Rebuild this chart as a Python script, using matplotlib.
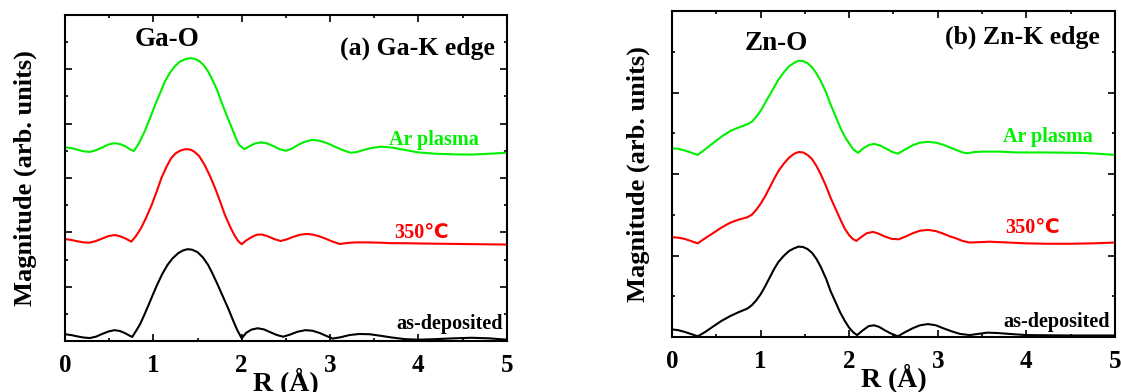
import numpy as np
from matplotlib import pyplot as plt
from matplotlib.ticker import MultipleLocator

# FT magnitude of EXAFS, Ga-K edge (a) and Zn-K edge (b)

# (a) Ga-K edge, curves already offset
ga_asdep_r = [0, 0.07, 0.14, 0.21, 0.28, 0.35, 0.42, 0.49, 0.56, 0.62, 0.68, 0.73, 0.76, 0.80, 0.85,
              0.90, 0.95, 1.00, 1.05, 1.10, 1.16, 1.22, 1.28, 1.34, 1.39, 1.44, 1.50, 1.56, 1.62,
              1.67, 1.73, 1.79, 1.85, 1.90, 1.95, 2.0, 2.05, 2.11, 2.18, 2.25, 2.32, 2.40, 2.47,
              2.55, 2.63, 2.72, 2.80, 2.88, 2.95, 3.03, 3.12, 3.22, 3.33, 3.45, 3.58, 3.7, 3.85,
              4.0, 4.2, 4.4, 4.6, 4.8, 5.0]
ga_asdep = [0.25, 0.22, 0.17, 0.13, 0.11, 0.16, 0.26, 0.35, 0.40, 0.37, 0.29, 0.20, 0.15, 0.35, 0.62,
            0.98, 1.36, 1.75, 2.12, 2.46, 2.80, 3.05, 3.23, 3.34, 3.38, 3.36, 3.27, 3.08, 2.80,
            2.48, 2.06, 1.62, 1.18, 0.78, 0.40, 0.10, 0.30, 0.42, 0.47, 0.43, 0.33, 0.22, 0.16,
            0.24, 0.34, 0.40, 0.38, 0.30, 0.20, 0.09, 0.14, 0.22, 0.26, 0.25, 0.19, 0.13, 0.07,
            0.05, 0.07, 0.10, 0.12, 0.10, 0.05]

ga_350_r = [0, 0.07, 0.14, 0.21, 0.28, 0.35, 0.42, 0.49, 0.56, 0.62, 0.68, 0.75, 0.80, 0.86, 0.92,
            0.98, 1.04, 1.09, 1.15, 1.20, 1.25, 1.30, 1.35, 1.39, 1.43, 1.47, 1.52, 1.58, 1.64,
            1.70, 1.76, 1.81, 1.87, 1.92, 1.96, 2.0, 2.05, 2.11, 2.17, 2.23, 2.30, 2.37, 2.44,
            2.51, 2.58, 2.66, 2.73, 2.80, 2.87, 2.94, 3.02, 3.11, 3.2, 3.3, 3.43, 3.55, 3.7,
            3.85, 4.0, 4.25, 4.5, 4.75, 5.0]
ga_350 = [3.75, 3.72, 3.67, 3.63, 3.62, 3.68, 3.77, 3.86, 3.90, 3.86, 3.78, 3.66, 3.85, 4.15, 4.55,
          5.0, 5.52, 5.99, 6.42, 6.72, 6.90, 7.0, 7.05, 7.06, 7.03, 6.95, 6.80, 6.48, 6.08,
          5.62, 5.10, 4.64, 4.20, 3.88, 3.68, 3.56, 3.70, 3.82, 3.91, 3.92, 3.85, 3.75, 3.68,
          3.74, 3.83, 3.91, 3.94, 3.92, 3.86, 3.78, 3.67, 3.57, 3.61, 3.63, 3.63, 3.62, 3.60,
          3.6, 3.59, 3.58, 3.57, 3.56, 3.55]

ga_ar_r = [0, 0.07, 0.14, 0.21, 0.28, 0.35, 0.42, 0.49, 0.56, 0.62, 0.68, 0.74, 0.78, 0.84, 0.90,
           0.96, 1.02, 1.08, 1.13, 1.19, 1.24, 1.30, 1.36, 1.42, 1.47, 1.52, 1.57, 1.62, 1.66,
           1.72, 1.77, 1.83, 1.89, 1.93, 1.97, 2.03, 2.09, 2.15, 2.22, 2.29, 2.36, 2.43, 2.50,
           2.57, 2.64, 2.72, 2.80, 2.88, 2.96, 3.05, 3.14, 3.23, 3.30, 3.39, 3.48, 3.58, 3.7,
           3.85, 4.0, 4.2, 4.4, 4.6, 4.8, 5.0]
ga_ar = [7.13, 7.10, 7.04, 6.98, 6.96, 7.02, 7.12, 7.23, 7.28, 7.25, 7.17, 7.05, 6.99, 7.3, 7.7,
         8.18, 8.69, 9.15, 9.55, 9.88, 10.1, 10.28, 10.37, 10.41, 10.38, 10.3, 10.15, 9.92, 9.67,
         9.25, 8.81, 8.3, 7.83, 7.5, 7.22, 7.06, 7.17, 7.27, 7.31, 7.27, 7.17, 7.06, 7.0,
         7.08, 7.22, 7.34, 7.40, 7.37, 7.29, 7.16, 7.03, 6.93, 6.95, 7.04, 7.11, 7.15, 7.12,
         7.03, 6.94, 6.89, 6.87, 6.86, 6.89, 6.93]

# (b) Zn-K edge
zn_asdep_r = [0, 0.07, 0.14, 0.21, 0.29, 0.37, 0.47, 0.56, 0.66, 0.75, 0.85, 0.90, 0.95, 1.0, 1.05,
              1.10, 1.15, 1.20, 1.26, 1.32, 1.38, 1.43, 1.48, 1.53, 1.58, 1.63, 1.68, 1.74, 1.79,
              1.85, 1.90, 1.95, 2.0, 2.05, 2.09, 2.15, 2.22, 2.28, 2.34, 2.40, 2.47, 2.55, 2.63,
              2.72, 2.80, 2.89, 2.98, 3.06, 3.16, 3.25, 3.36, 3.46, 3.56, 3.68, 3.8, 4.0, 4.5, 5.0]
zn_asdep = [0.19, 0.17, 0.13, 0.08, 0.02, 0.12, 0.27, 0.40, 0.52, 0.61, 0.70, 0.78, 0.90, 1.05, 1.24,
            1.45, 1.66, 1.84, 1.99, 2.11, 2.18, 2.22, 2.21, 2.16, 2.07, 1.92, 1.72, 1.43, 1.13,
            0.84, 0.60, 0.40, 0.23, 0.11, 0.05, 0.16, 0.27, 0.29, 0.25, 0.17, 0.09, 0.02, 0.12,
            0.22, 0.29, 0.32, 0.29, 0.22, 0.14, 0.08, 0.05, 0.08, 0.11, 0.10, 0.08, 0.05, 0.04, 0.04]

zn_350_r = [0, 0.07, 0.14, 0.21, 0.29, 0.37, 0.47, 0.56, 0.66, 0.75, 0.85, 0.90, 0.95, 1.0, 1.05,
            1.10, 1.15, 1.20, 1.26, 1.32, 1.38, 1.43, 1.48, 1.53, 1.58, 1.63, 1.68, 1.74, 1.79,
            1.85, 1.90, 1.95, 2.0, 2.04, 2.08, 2.14, 2.20, 2.27, 2.33, 2.40, 2.48, 2.56, 2.64,
            2.72, 2.80, 2.89, 2.98, 3.06, 3.14, 3.21, 3.28, 3.36, 3.47, 3.59, 3.8, 4.0, 4.25,
            4.5, 4.75, 5.0]
zn_350 = [2.45, 2.44, 2.41, 2.36, 2.30, 2.42, 2.56, 2.69, 2.81, 2.88, 2.94, 3.0, 3.12, 3.27, 3.45,
          3.66, 3.87, 4.07, 4.25, 4.40, 4.50, 4.54, 4.53, 4.47, 4.37, 4.20, 3.99, 3.70, 3.42,
          3.13, 2.89, 2.66, 2.50, 2.41, 2.36, 2.46, 2.55, 2.58, 2.54, 2.47, 2.41, 2.40, 2.47,
          2.55, 2.61, 2.63, 2.60, 2.54, 2.47, 2.42, 2.36, 2.32, 2.33, 2.34, 2.32, 2.30, 2.29,
          2.29, 2.30, 2.32]

zn_ar_r = [0, 0.07, 0.14, 0.21, 0.29, 0.37, 0.47, 0.56, 0.66, 0.75, 0.85, 0.90, 0.95, 1.0, 1.05,
           1.10, 1.15, 1.20, 1.26, 1.32, 1.38, 1.43, 1.48, 1.53, 1.58, 1.63, 1.68, 1.74, 1.79,
           1.85, 1.90, 1.95, 2.0, 2.05, 2.10, 2.16, 2.22, 2.28, 2.35, 2.42, 2.49, 2.55, 2.63,
           2.72, 2.80, 2.89, 2.98, 3.06, 3.14, 3.21, 3.28, 3.33, 3.42, 3.51, 3.7, 3.89, 4.2,
           4.6, 4.8, 5.0]
zn_ar = [4.63, 4.62, 4.58, 4.53, 4.47, 4.60, 4.77, 4.92, 5.06, 5.14, 5.22, 5.28, 5.40, 5.55, 5.74,
         5.93, 6.12, 6.31, 6.49, 6.64, 6.73, 6.78, 6.77, 6.72, 6.62, 6.47, 6.28, 6.0, 5.71,
         5.40, 5.14, 4.92, 4.75, 4.60, 4.52, 4.63, 4.71, 4.74, 4.70, 4.62, 4.54, 4.50, 4.60,
         4.71, 4.77, 4.79, 4.77, 4.72, 4.65, 4.59, 4.53, 4.51, 4.54, 4.55, 4.55, 4.53, 4.53,
         4.52, 4.50, 4.47]

sample_names = ["as-deposited", "350\u2103", "Ar plasma"]
colors = ["k", "#FF0000", "#00F000"]

plt.rcParams["font.family"] = ["Liberation Serif", "DejaVu Sans"]
plt.rcParams["font.weight"] = "bold"
plt.rcParams["axes.labelweight"] = "bold"
plt.rcParams["font.size"] = 18
plt.rcParams["axes.linewidth"] = 1.5

fig = plt.figure(figsize=(11.21, 3.92), dpi=100)
ax_a = fig.add_axes([0.058, 0.130, 0.394, 0.832])
ax_b = fig.add_axes([0.5995, 0.140, 0.395, 0.832])

panels = [
    (ax_a, [(ga_asdep_r, ga_asdep), (ga_350_r, ga_350), (ga_ar_r, ga_ar)], 12,
     "Ga-O", (1.15, 11.08), "(a) Ga-K edge", (3.99, 10.78),
     [(4.35, 0.63), (4.04, 3.97), (4.18, 7.40)], 11),
    (ax_b, [(zn_asdep_r, zn_asdep), (zn_350_r, zn_350), (zn_ar_r, zn_ar)], 8,
     "Zn-O", (1.18, 7.21), "(b) Zn-K edge", (3.96, 7.36),
     [(4.34, 0.37), (4.07, 2.68), (4.25, 4.91)], 7),
]

for ax, curves, ytop, bond, bond_xy, edge, edge_xy, label_xy, ypad in panels:
    for (r, mag), c in zip(curves, colors):
        ax.plot(r, mag, color=c, lw=1.5)
    for name, c, (lx, ly) in zip(sample_names, colors, label_xy):
        ax.text(lx, ly, name, color=c, fontsize=14.5, ha="center", va="center")
    ax.text(bond_xy[0], bond_xy[1], bond, fontsize=19.5, ha="center", va="center")
    ax.text(edge_xy[0], edge_xy[1], edge, fontsize=18.5, ha="center", va="center")

    ax.set_xlim(0, 5)
    ax.set_ylim(0, ytop)
    ax.xaxis.set_major_locator(MultipleLocator(1))
    ax.xaxis.set_minor_locator(MultipleLocator(0.5))
    ax.yaxis.set_major_locator(MultipleLocator(2))
    ax.yaxis.set_minor_locator(MultipleLocator(1))
    ax.tick_params(which="both", direction="in", top=True, right=True, width=1.2)
    ax.tick_params(which="major", length=5, pad=9, labelsize=18)
    ax.tick_params(which="minor", length=2.5)
    ax.set_yticklabels([])
    ax.set_ylabel("Magnitude (arb. units)", fontsize=19, labelpad=ypad)
    ax.set_xlabel("R (\u00c5)", fontsize=20)
    ax.xaxis.set_label_coords(0.5, -0.08)

fig.savefig("out.png", dpi=100)
